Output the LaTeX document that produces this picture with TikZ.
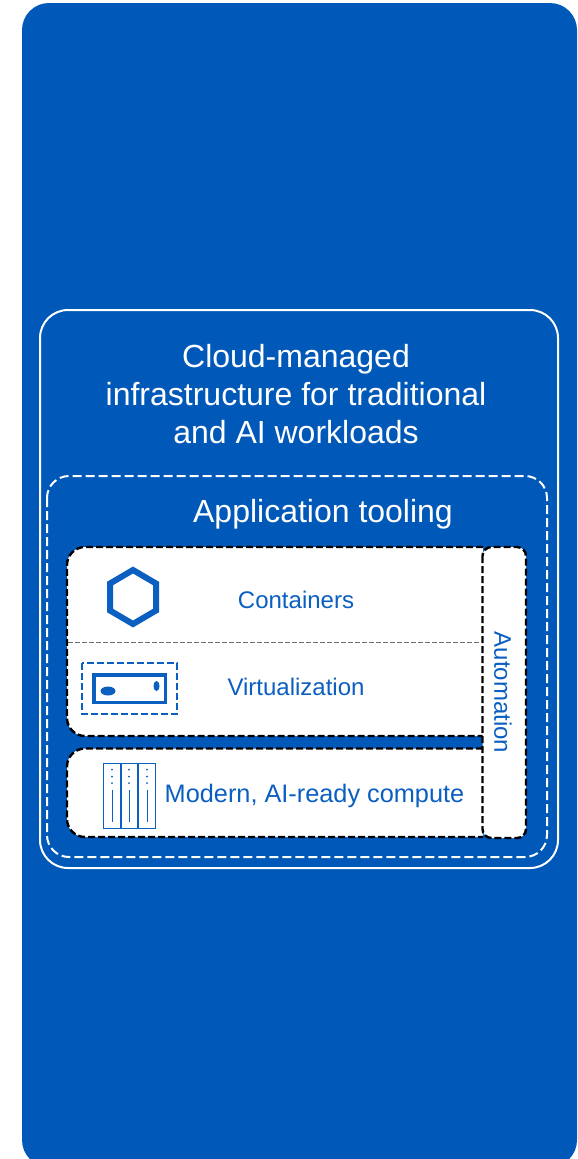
\documentclass[tikz,border=0pt]{standalone}
\usepackage{fontspec}
\setmainfont{Liberation Sans}
\definecolor{ciscoblue}{HTML}{0058B8}
\definecolor{labelblue}{HTML}{0A5FC0}
\tikzset{
  x=1pt,y=-1pt,
  title/.style={text=white,align=center,font=\fontsize{32}{38}\selectfont,inner sep=0pt},
  label/.style={text=labelblue,font=\fontsize{24}{28}\selectfont,inner sep=0pt},
  panel/.style={draw=black,fill=white,line width=2.4pt,dash pattern=on 7pt off 3pt},
  whitedash/.style={draw=white,line width=2pt,dash pattern=on 9pt off 4pt},
  iconline/.style={draw=labelblue,line width=1.3pt},
}
\begin{document}
\begin{tikzpicture}
\useasboundingbox (0,0) rectangle (578,1159);
\begin{scope}
\clip (0,0) rectangle (578,1159);
\fill[ciscoblue,rounded corners=27pt] (22,3) rectangle (577,1167);
\end{scope}
\draw[white,line width=2pt,rounded corners=28pt] (40,310) rectangle (558,868);
\draw[whitedash,rounded corners=22pt] (47,476) rectangle (547,857);
\node[title] (main) at (296,394.500) {Cloud-managed\\infrastructure for traditional\\and AI workloads};
\node[title] (tool) at (323,514) {Application tooling};

\path[panel,rounded corners=18pt] (483,547) -- (67,547) -- (67,736) -- (483,736);
\path[panel,rounded corners=18pt] (483,748.500) -- (67,748.500) -- (67,837) -- (483,837);
\draw[panel,rounded corners=9pt] (482.500,547) rectangle (526,838);
\draw[gray!85!black,line width=1pt,dash pattern=on 5pt off 2pt] (68,642) -- (482,642);

\node[label] (containers) at (296,600) {Containers};
\node[label] (virt) at (296,687) {Virtualization};
\node[label,font=\fontsize{25.3}{30}\selectfont] (compute) at (314.500,796) {Modern, AI-ready compute};
\node[label,rotate=-90] (auto) at (503,692.500) {Automation};

% hexagon icon
\draw[labelblue,line width=6pt,line join=miter] (133,570) -- (156,583.500) -- (156,610.500) -- (133,624) -- (110,610.500) -- (110,583.500) -- cycle;

% virtualization icon
\draw[labelblue,line width=2pt,dash pattern=on 7pt off 3pt] (82,663) rectangle (177,714);
\draw[labelblue,line width=3.5pt] (94,675) rectangle (165.500,702.500);
\fill[labelblue] (108,691) ellipse[x radius=7.500,y radius=4.500];
\fill[labelblue] (156.500,686) ellipse[x radius=3,y radius=5];

% server icon
\draw[iconline] (103.500,763.500) rectangle (155.500,828.500);
\draw[iconline] (121,763.500) -- (121,828.500);
\draw[iconline] (138,763.500) -- (138,828.500);
\foreach \xx in {112,129,147}{
  \fill[labelblue] (\xx,769.500) circle[radius=1];
  \fill[labelblue] (\xx,776.500) circle[radius=1];
  \fill[labelblue] (\xx,783) circle[radius=1];
  \draw[labelblue,line width=1pt] (\xx,790) -- (\xx,822);
}
\end{tikzpicture}
\end{document}
